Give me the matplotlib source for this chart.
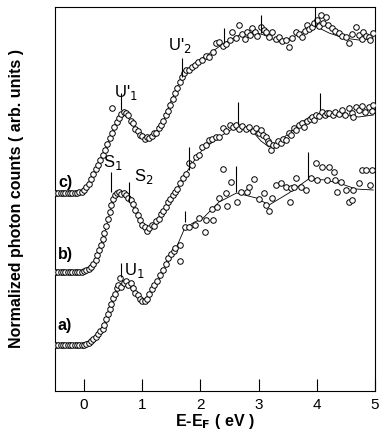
import matplotlib
matplotlib.use("Agg")
import matplotlib.pyplot as plt

plt.rcParams['font.family'] = ['Liberation Sans', 'DejaVu Sans']

# energies (eV) and counts (arb. units, offset per spectrum)
base_e = [-0.48, -0.44, -0.40, -0.36, -0.32, -0.28, -0.24, -0.20, -0.16, -0.12, -0.08, -0.04]

# spectrum a)
a_e = base_e + [0.00, 0.04, 0.08, 0.12, 0.16, 0.20, 0.24, 0.28, 0.32, 0.35, 0.38, 0.41, 0.44, 0.47,
                0.50, 0.53, 0.56, 0.59, 0.62, 0.64, 0.68, 0.72, 0.76, 0.80, 0.84, 0.88, 0.92, 0.96,
                1.00, 1.04, 1.08, 1.12, 1.16, 1.20, 1.25, 1.30, 1.35, 1.40, 1.45, 1.50, 1.55, 1.56,
                1.64, 1.64, 1.73, 1.81, 1.90, 1.98, 2.07, 2.10, 2.19, 2.21, 2.29, 2.32, 2.38, 2.44,
                2.46, 2.53, 2.63, 2.70, 2.80, 2.84, 2.92, 3.01, 3.09, 3.13, 3.18, 3.23, 3.30, 3.38,
                3.47, 3.54, 3.56, 3.61, 3.64, 3.73, 3.81, 3.90, 3.98, 4.00, 4.09, 4.17, 4.21, 4.29,
                4.32, 4.34, 4.41, 4.50, 4.55, 4.60, 4.63, 4.72, 4.77, 4.85, 4.92, 4.94]
a_y = [46] * 12 + [46, 47, 48, 50, 52, 54, 57, 60, 62, 66, 72, 77, 82, 87,
                   93, 97, 103, 106, 113, 104, 108, 110, 106, 108, 103, 98, 96, 92,
                   90, 90, 92, 97, 102, 106, 110, 116, 121, 127, 133, 137, 140, 143,
                   146, 130, 164, 164, 166, 173, 159, 171, 182, 171, 184, 193, 222, 198,
                   185, 209, 189, 199, 199, 204, 212, 192, 198, 186, 180, 193, 206, 208,
                   204, 189, 203, 204, 213, 204, 201, 213, 228, 211, 224, 211, 224, 219,
                   211, 199, 209, 201, 189, 191, 201, 208, 221, 221, 206, 221]
a_fit_e = [-0.5, -0.07, 0.10, 0.27, 0.36, 0.44, 0.53, 0.62, 0.70, 0.79, 0.91, 1.04, 1.13, 1.30,
           1.44, 1.59, 1.73, 1.90, 2.03, 2.32, 2.62, 2.96, 3.18, 3.52, 3.69, 3.86, 4.15, 4.43,
           4.67, 4.97]
a_fit_y = [46, 46, 50, 58, 67, 81, 97, 105, 108, 104, 96, 91, 98, 113,
           129, 144, 163, 169, 172, 189, 198, 193, 186, 198, 205, 212, 211, 207,
           202, 201]

# spectrum b)
b_e = base_e + [0.00, 0.04, 0.08, 0.12, 0.16, 0.20, 0.23, 0.26, 0.29, 0.32, 0.35, 0.38, 0.41, 0.44,
                0.47, 0.50, 0.53, 0.56, 0.60, 0.64, 0.68, 0.72, 0.76, 0.80, 0.84, 0.88, 0.92, 0.96,
                1.00, 1.04, 1.08, 1.12, 1.16, 1.20, 1.24, 1.28, 1.32, 1.36, 1.40, 1.44, 1.48, 1.52,
                1.56, 1.60, 1.65, 1.70, 1.75, 1.81, 1.85, 1.93, 1.97, 2.03, 2.09, 2.15, 2.20, 2.27,
                2.32, 2.38, 2.44, 2.50, 2.56, 2.61, 2.66, 2.72, 2.78, 2.84, 2.90, 2.96, 3.00, 3.04,
                3.08, 3.13, 3.16, 3.18, 3.21, 3.25, 3.30, 3.34, 3.38, 3.42, 3.47, 3.52, 3.56, 3.61,
                3.65, 3.69, 3.74, 3.78, 3.83, 3.88, 3.91, 3.95, 3.98, 4.03, 4.09, 4.14, 4.18, 4.21,
                4.27, 4.32, 4.38, 4.43, 4.49, 4.55, 4.60, 4.63, 4.67, 4.72, 4.77, 4.82, 4.89, 4.94,
                4.97]
b_y = [119] * 12 + [120, 121, 122, 124, 127, 131, 136, 141, 146, 152, 158, 165, 172, 179,
                    186, 192, 196, 198, 199, 197, 198, 196, 193, 191, 187, 181, 176, 171,
                    166, 164, 160, 163, 166, 165, 170, 172, 177, 180, 184, 189, 192, 196,
                    199, 202, 208, 213, 217, 228, 226, 234, 236, 244, 246, 251, 252, 254,
                    254, 263, 260, 266, 264, 266, 262, 265, 262, 264, 260, 263, 258, 261,
                    256, 254, 250, 248, 241, 246, 246, 250, 248, 252, 251, 258, 256, 263,
                    261, 266, 268, 264, 270, 272, 274, 271, 276, 275, 279, 276, 278, 278,
                    276, 279, 277, 281, 276, 283, 278, 274, 284, 281, 285, 279, 284, 280,
                    286]
b_fit_e = [-0.5, -0.07, 0.10, 0.22, 0.32, 0.41, 0.50, 0.58, 0.70, 0.79, 0.89, 0.99, 1.09, 1.21,
           1.33, 1.47, 1.59, 1.73, 1.90, 2.03, 2.32, 2.58, 2.75, 2.92, 3.04, 3.18, 3.35, 3.52,
           3.74, 3.95, 4.21, 4.46, 4.72, 4.97]
b_fit_y = [119, 119, 123, 133, 151, 171, 191, 197, 195, 191, 179, 167, 162, 166,
           177, 191, 201, 216, 231, 241, 254, 263, 263, 258, 250, 244, 249, 258,
           269, 276, 278, 276, 274, 276]

# spectrum c)
c_e = base_e + [0.00, 0.04, 0.08, 0.12, 0.16, 0.20, 0.24, 0.28, 0.32, 0.36, 0.40, 0.44, 0.48, 0.48,
                0.52, 0.56, 0.60, 0.64, 0.68, 0.72, 0.76, 0.80, 0.84, 0.88, 0.92, 0.96, 1.00, 1.04,
                1.08, 1.12, 1.16, 1.20, 1.24, 1.28, 1.32, 1.36, 1.40, 1.44, 1.48, 1.52, 1.56, 1.60,
                1.64, 1.68, 1.72, 1.76, 1.81, 1.85, 1.90, 1.95, 2.03, 2.09, 2.15, 2.21, 2.27, 2.32,
                2.38, 2.44, 2.50, 2.55, 2.61, 2.67, 2.72, 2.76, 2.80, 2.85, 2.89, 2.94, 2.98, 3.04,
                3.09, 3.13, 3.18, 3.23, 3.29, 3.35, 3.41, 3.47, 3.52, 3.58, 3.64, 3.69, 3.74, 3.79,
                3.83, 3.87, 3.91, 3.96, 4.00, 4.04, 4.07, 4.11, 4.15, 4.20, 4.26, 4.32, 4.38, 4.44,
                4.50, 4.55, 4.61, 4.67, 4.72, 4.77, 4.80, 4.85, 4.89, 4.92, 4.97]
c_y = [198] * 9 + [198, 199, 199] + [201, 204, 207, 212, 217, 222, 226, 231, 236, 241, 247, 253, 258, 283,
                                     264, 269, 273, 277, 279, 278, 276, 270, 268, 262, 260, 256, 255, 252,
                                     254, 253, 255, 258, 258, 263, 266, 270, 276, 280, 286, 292, 298, 303,
                                     309, 314, 318, 321, 321, 324, 326, 329, 331, 335, 334, 339, 348, 349,
                                     345, 347, 351, 359, 353, 366, 357, 352, 359, 356, 363, 359, 355, 364,
                                     361, 359, 354, 359, 352, 354, 350, 351, 344, 353, 359, 357, 354, 360,
                                     366, 362, 364, 368, 371, 365, 376, 368, 374, 366, 363, 360, 358, 355,
                                     354, 348, 357, 364, 356, 352, 359, 355, 354, 351, 358]
c_fit_e = [-0.5, -0.15, 0.02, 0.15, 0.27, 0.38, 0.48, 0.56, 0.65, 0.75, 0.85, 0.96, 1.09, 1.23,
           1.37, 1.47, 1.59, 1.69, 1.86, 2.03, 2.24, 2.41, 2.67, 2.92, 3.09, 3.35, 3.52, 3.74,
           3.97, 4.21, 4.46, 4.72, 4.97]
c_fit_y = [198, 198, 202, 216, 230, 243, 258, 269, 278, 274, 266, 258, 253, 257,
           270, 287, 302, 316, 326, 333, 341, 348, 356, 359, 356, 349, 351, 359,
           365, 358, 353, 351, 353]

# feature markers: energy, bottom, top
mark_e = [0.63, 1.73, 2.61, 3.85, 0.46, 0.77, 1.81, 2.65, 4.05, 0.63, 1.69, 2.41, 3.04, 3.97]
mark_lo = [114, 169, 199, 212, 199, 189, 221, 266, 281, 281, 314, 348, 358, 364]
mark_hi = [128, 180, 225, 239, 219, 209, 244, 289, 298, 298, 333, 363, 376, 386]

fig = plt.figure(figsize=(3.8, 4.48), dpi=100)
ax = fig.add_axes([55 / 380, 57 / 448, 320 / 380, 384 / 448])

for e, y, fe, fy in [(a_e, a_y, a_fit_e, a_fit_y), (b_e, b_y, b_fit_e, b_fit_y), (c_e, c_y, c_fit_e, c_fit_y)]:
    ax.plot(fe, fy, color='black', lw=0.6, zorder=2)
    ax.plot(e, y, 'o', ms=4.0, mfc='white', mec='black', mew=0.7, zorder=3)

ax.vlines(mark_e, mark_lo, mark_hi, color='black', lw=0.8, zorder=4)

# curve labels
lab_kw = dict(fontsize=11.5, fontweight='bold', va='center', ha='left')
ax.text(-0.45, 66, 'a)', **lab_kw)
ax.text(-0.45, 137, 'b)', **lab_kw)
ax.text(-0.45, 209, 'c)', **lab_kw)

# feature labels
f_kw = dict(fontsize=12, va='center')
ax.text(0.69, 121, r'U$_1$', ha='left', **f_kw)
ax.text(0.50, 229, r'S$_1$', ha='center', **f_kw)
ax.text(0.86, 215, r'S$_2$', ha='left', **f_kw)
ax.text(0.72, 299, r"U'$_1$", ha='center', **f_kw)
ax.text(1.64, 346, r"U'$_2$", ha='center', **f_kw)

ax.set_xlim(-0.5, 5.0)
ax.set_ylim(0, 384)
ax.set_xticks([0, 1, 2, 3, 4, 5])
ax.set_yticks([])
ax.tick_params(axis='x', direction='in', length=9, width=0.8, labelsize=11, pad=5)
for s in ax.spines.values():
    s.set_linewidth(0.8)

ax.set_xlabel(r'E-E$_\mathbf{F}$ ( eV )', fontsize=11.5, fontweight='bold', labelpad=0)
ax.set_ylabel('Normalized photon counts ( arb. units )', fontsize=11.5, fontweight='bold', labelpad=22)

fig.savefig('out.png', dpi=100)
